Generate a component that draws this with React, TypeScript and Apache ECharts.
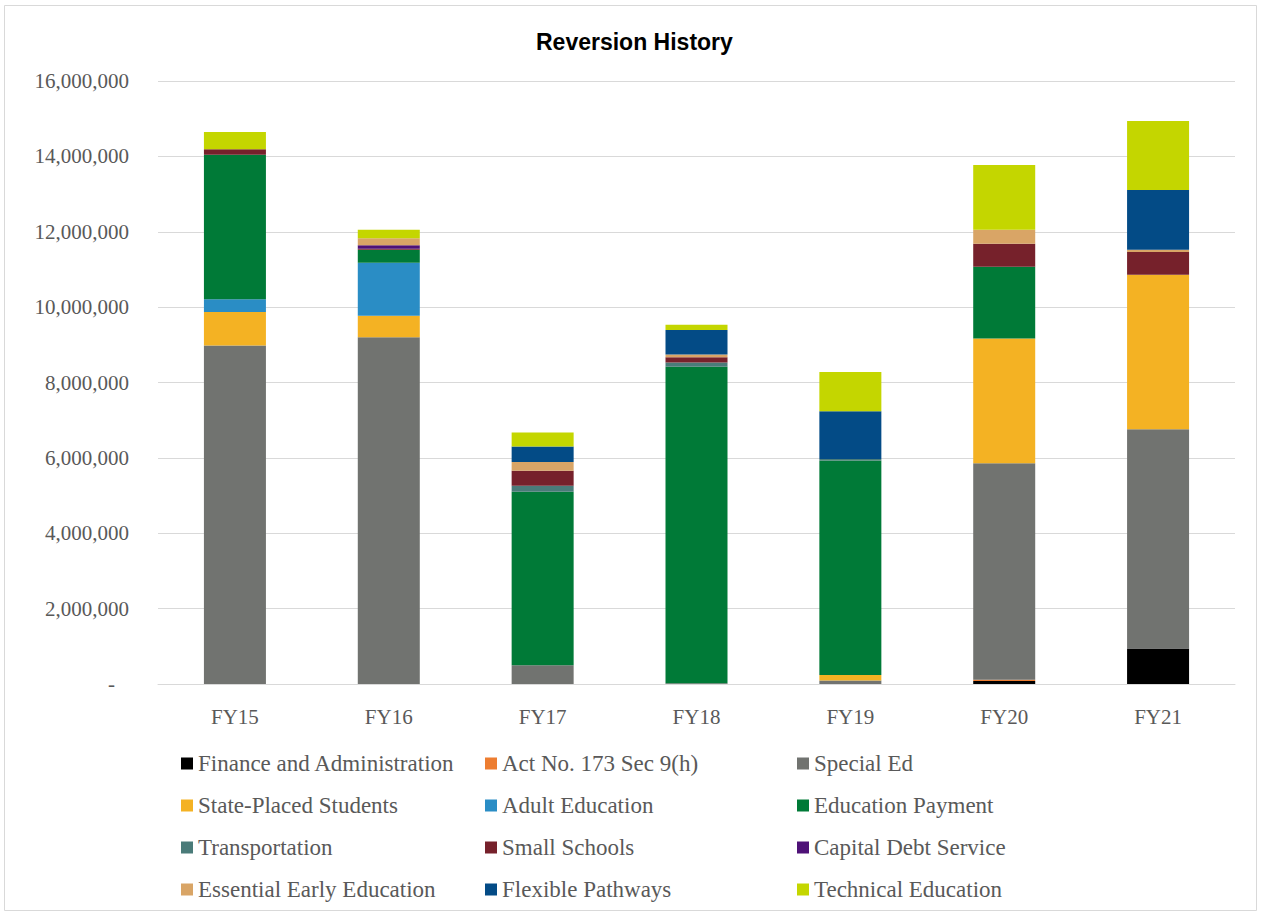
import React, { useEffect, useRef } from "react";
import * as echarts from "echarts";

const categories = ["FY15", "FY16", "FY17", "FY18", "FY19", "FY20", "FY21"];

const financeAdmin = [0, 0, 0, 0, 0, 80000, 940000];
const act173 = [0, 0, 0, 0, 0, 30000, 0];
const specialEd = [8980000, 9200000, 500000, 20000, 90000, 5750000, 5820000];
const statePlaced = [890000, 570000, 0, 0, 150000, 3310000, 4100000];
const adultEd = [340000, 1410000, 0, 0, 0, 0, 0];
const educationPayment = [3830000, 340000, 4600000, 8400000, 5690000, 1900000, 0];
const transportation = [0, 0, 160000, 110000, 40000, 0, 0];
const smallSchools = [150000, 30000, 400000, 140000, 0, 610000, 600000];
const capitalDebt = [0, 90000, 0, 0, 0, 0, 0];
const earlyEd = [0, 190000, 230000, 70000, 0, 370000, 60000];
const flexiblePathways = [0, 0, 410000, 650000, 1270000, 0, 1590000];
const technicalEd = [460000, 220000, 370000, 140000, 1040000, 1720000, 1830000];

const seriesDefs = [
  { name: "Finance and Administration", data: financeAdmin, color: "#000000" },
  { name: "Act No. 173 Sec 9(h)", data: act173, color: "#ED7D31" },
  { name: "Special Ed", data: specialEd, color: "#717370" },
  { name: "State-Placed Students", data: statePlaced, color: "#F4B223" },
  { name: "Adult Education", data: adultEd, color: "#2A8DC5" },
  { name: "Education Payment", data: educationPayment, color: "#007A37" },
  { name: "Transportation", data: transportation, color: "#4A7B79" },
  { name: "Small Schools", data: smallSchools, color: "#76212B" },
  { name: "Capital Debt Service", data: capitalDebt, color: "#4E1177" },
  { name: "Essential Early Education", data: earlyEd, color: "#D9A566" },
  { name: "Flexible Pathways", data: flexiblePathways, color: "#034B86" },
  { name: "Technical Education", data: technicalEd, color: "#C4D600" },
];

const legendCols = [
  ["Finance and Administration", "State-Placed Students", "Transportation", "Essential Early Education"],
  ["Act No. 173 Sec 9(h)", "Adult Education", "Small Schools", "Flexible Pathways"],
  ["Special Ed", "Education Payment", "Capital Debt Service", "Technical Education"],
];
const legendLefts = [181, 485, 797];

const serif = "'Liberation Serif', serif";

export default function App() {
  const ref = useRef<HTMLDivElement>(null);
  useEffect(() => {
    if (!ref.current) return;
    const chart = echarts.init(ref.current, null, { renderer: "svg" });
    chart.setOption({
      animation: false,
      backgroundColor: "#ffffff",
      title: {
        text: "Reversion History",
        left: 531,
        top: 25,
        textStyle: {
          fontFamily: "'Liberation Sans', Arial, sans-serif",
          fontWeight: "bold",
          fontSize: 23,
          color: "#000000",
        },
      },
      graphic: [
        {
          type: "rect",
          shape: { x: 4.5, y: 5.5, width: 1252, height: 905 },
          style: { fill: "none", stroke: "#d9d9d9", lineWidth: 1 },
          silent: true,
        },
      ],
      legend: legendCols.map((col, i) => ({
        orient: "vertical",
        left: legendLefts[i],
        top: 752,
        padding: 0,
        data: col,
        itemWidth: 12,
        itemHeight: 12,
        itemGap: 19,
        icon: "rect",
        selectedMode: false,
        textStyle: {
          fontFamily: serif,
          fontSize: 23,
          lineHeight: 23,
          color: "#595959",
        },
      })),
      grid: { left: 158, right: 26, top: 81, bottom: 230, containLabel: false },
      xAxis: {
        type: "category",
        data: categories,
        axisLine: { lineStyle: { color: "#d9d9d9" } },
        axisTick: { show: false },
        axisLabel: {
          fontFamily: serif,
          fontSize: 21,
          color: "#595959",
          margin: 22,
        },
      },
      yAxis: {
        type: "value",
        min: 0,
        max: 16000000,
        interval: 2000000,
        axisLine: { show: false },
        axisTick: { show: false },
        splitLine: { lineStyle: { color: "#d9d9d9", width: 1 } },
        axisLabel: {
          fontFamily: serif,
          fontSize: 21,
          color: "#595959",
          margin: 29,
          formatter: (v: number) =>
            v === 0 ? "{z|-}" : v.toLocaleString("en-US"),
          rich: {
            z: {
              fontFamily: serif,
              fontSize: 21,
              color: "#595959",
              padding: [0, 14, 0, 0],
            },
          },
        },
      },
      series: seriesDefs.map((s) => ({
        name: s.name,
        type: "bar",
        stack: "total",
        barWidth: 62,
        data: s.data,
        itemStyle: { color: s.color },
      })),
    });
    return () => chart.dispose();
  }, []);
  return (
    <div
      ref={ref}
      style={{ position: "fixed", left: 0, top: 0, width: 1261, height: 914 }}
    />
  );
}
